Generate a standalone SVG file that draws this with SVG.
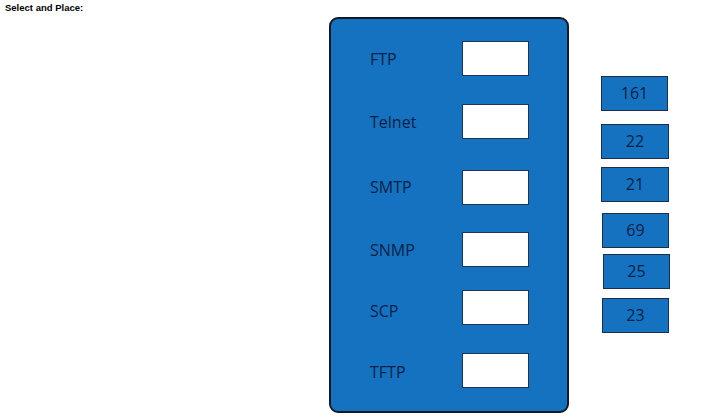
<svg xmlns="http://www.w3.org/2000/svg" width="706" height="420" viewBox="0 0 706 420">
<style>
.hdr{font-family:"Liberation Sans",Arial,sans-serif;font-size:9.5px;font-weight:bold;fill:#000}
.lbl{font-family:"Open Sans","Noto Sans",sans-serif;font-size:16px;fill:#0b1f45}
.num{font-family:"Open Sans","Noto Sans",sans-serif;font-size:16px;fill:#0b1f45;text-anchor:middle}
.slot{fill:#fff;stroke:#1c3556;stroke-width:1}
.tile{fill:#1472c0;stroke:#1c2f4a;stroke-width:1}
</style>
<rect width="706" height="420" fill="#fff"/>
<text class="hdr" x="5" y="11">Select and Place:</text>
<g id="panel">
<rect x="330" y="18" width="238" height="394" rx="8" ry="8" fill="#1472c0" stroke="#121a26" stroke-width="2"/>
</g>
<g id="ftp"><text class="lbl" x="370" y="65">FTP</text><rect class="slot" x="462.500" y="41.500" width="66" height="34"/></g>
<g id="telnet"><text class="lbl" x="370" y="128">Telnet</text><rect class="slot" x="462.500" y="104.500" width="66" height="34"/></g>
<g id="smtp"><text class="lbl" x="370" y="193">SMTP</text><rect class="slot" x="462.500" y="170.500" width="66" height="34"/></g>
<g id="snmp"><text class="lbl" x="370" y="256">SNMP</text><rect class="slot" x="462.500" y="232.500" width="66" height="34"/></g>
<g id="scp"><text class="lbl" x="370" y="317">SCP</text><rect class="slot" x="462.500" y="290.500" width="66" height="34"/></g>
<g id="tftp"><text class="lbl" x="370" y="378">TFTP</text><rect class="slot" x="462.500" y="353.500" width="66" height="34"/></g>
<g id="t161"><rect class="tile" x="601.500" y="76.500" width="66" height="34"/><text class="num" x="634.500" y="99">161</text></g>
<g id="t22"><rect class="tile" x="601.500" y="124.500" width="67" height="34"/><text class="num" x="635" y="147">22</text></g>
<g id="t21"><rect class="tile" x="601.500" y="167.500" width="67" height="34"/><text class="num" x="635" y="190">21</text></g>
<g id="t69"><rect class="tile" x="602.500" y="213.500" width="66" height="34"/><text class="num" x="635.500" y="236">69</text></g>
<g id="t25"><rect class="tile" x="603.500" y="254.500" width="66" height="34"/><text class="num" x="636.500" y="277">25</text></g>
<g id="t23"><rect class="tile" x="602.500" y="298.500" width="66" height="34"/><text class="num" x="635.500" y="321">23</text></g>
<g id="connectors"></g>
</svg>
